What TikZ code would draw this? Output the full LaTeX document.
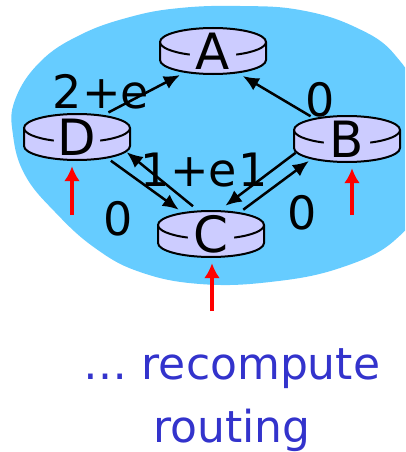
\documentclass[tikz,border=0pt]{standalone}
\usepackage{fontspec}
\setmainfont{DejaVu Sans}
\usetikzlibrary{shapes.geometric,arrows.meta}
\definecolor{cloud}{HTML}{66CCFF}
\definecolor{routerfill}{HTML}{CCCCFF}
\definecolor{noteblue}{HTML}{3333CC}
% cylinder body, then the named node that carries the letter
\newcommand{\router}[3]{%
  \begin{scope}[shift={#2},line width=2pt]
    \filldraw[fill=routerfill] (-53,-9) -- (-53,9)
      arc[start angle=180,end angle=0,x radius=53,y radius=14] -- (53,-9)
      arc[start angle=0,end angle=-180,x radius=53,y radius=14] -- cycle;
    \draw (-53,-9) arc[start angle=180,end angle=116,x radius=53,y radius=14];
    \draw (53,-9) arc[start angle=0,end angle=64,x radius=53,y radius=14];
  \end{scope}
  \node[router] (#1) at #2 {#3};
}
\begin{document}
\begin{tikzpicture}[x=1pt,y=-1pt,>={Latex[length=16pt,width=14pt]},
  router/.style={ellipse,minimum width=116pt,minimum height=58pt,inner sep=0pt,
    font=\fontsize{50}{50}\selectfont},
  link/.style={->,line width=2.5pt},
  cost/.style={inner sep=0pt,font=\fontsize{46}{46}\selectfont},
  change/.style={-{Latex[length=15pt,width=16pt]},red,line width=3.2pt},
  note/.style={align=center,text=noteblue,font=\fontsize{44}{63}\selectfont}]
  \useasboundingbox (0,0) rectangle (405,452);
  \begin{scope}
    \clip (0,0) rectangle (405,452);
    \fill[cloud] plot[smooth cycle,tension=0.7] coordinates {
      (15,100) (40,62) (80,35) (130,17) (180,8) (240,6) (300,10) (355,27)
      (395,55) (415,100) (415,200) (395,240) (340,268) (270,282) (200,284)
      (140,272) (95,248) (55,212) (25,175) (13,135)};
  \end{scope}
  % routers
  \router{A}{(213,51)}{A}
  \router{D}{(77,137)}{D}
  \router{B}{(347,139)}{B}
  \router{C}{(211,234)}{C}
  % links
  \draw[link] (D.38) -- (A.216);
  \draw[link] (B.148) -- (A.320);
  \draw[link] (D.325) -- (C.143);
  \draw[link] (C.123) -- (D.343);
  \draw[link] (B.195) -- (C.63);
  \draw[link] (C.37) -- (B.210);
  % costs
  \node[cost] (cDA) at (101,92) {2+e};
  \node[cost] (cBA) at (320,100) {0};
  \node[cost] (cCD) at (189,170) {1+e};
  \node[cost] (cCB) at (253,170) {1};
  \node[cost] (cDC) at (118,219) {0};
  \node[cost] (cBC) at (302,213) {0};
  % link cost changes
  \coordinate (Dtail) at (72,215);
  \coordinate (Btail) at (352,215);
  \coordinate (Ctail) at (212,311);
  \draw[change] (Dtail) -- (Dtail |- D.south);
  \draw[change] (Btail) -- (Btail |- B.south);
  \draw[change] (Ctail) -- (Ctail |- C.south);
  \node[note] (note) at (232,400) {… recompute\\routing};
\end{tikzpicture}
\end{document}
